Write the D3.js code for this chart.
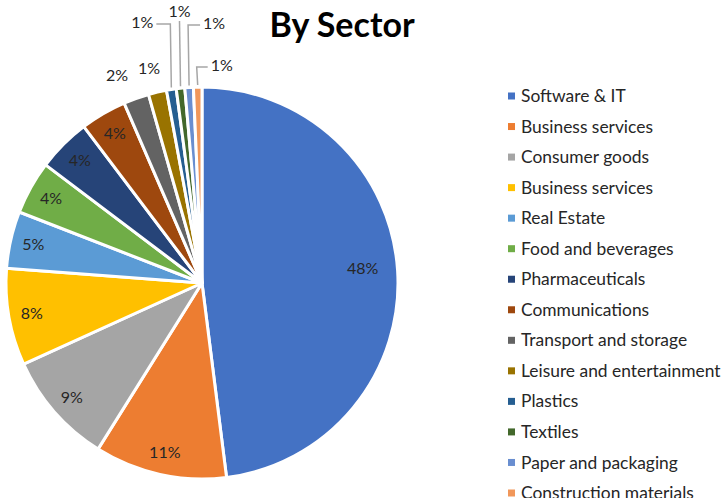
<!DOCTYPE html>
<html>
<head>
<meta charset="utf-8">
<script src="https://cdn.jsdelivr.net/npm/d3@7/dist/d3.min.js"></script>
<style>
  html, body { margin: 0; padding: 0; background: #fff; }
  svg { display: block; }
</style>
</head>
<body>
<svg id="chart" width="724" height="498"></svg>
<script>
// Share of investments by sector (percent)
const sectors = [
  "Software & IT", "Business services", "Consumer goods", "Business services",
  "Real Estate", "Food and beverages", "Pharmaceuticals", "Communications",
  "Transport and storage", "Leisure and entertainment", "Plastics", "Textiles",
  "Paper and packaging", "Construction materials"
];
const shares = [48, 10.9, 9.3, 8, 4.7, 4.4, 4.4, 3.8, 2.1, 1.5, 0.8, 0.7, 0.7, 0.7];
const palette = [
  "#4472C4", "#ED7D31", "#A5A5A5", "#FFC000", "#5B9BD5", "#70AD47", "#264478",
  "#9E480E", "#636363", "#997300", "#255E91", "#43682B", "#698ED0", "#F1975A"
];

const cx = 202, cy = 283, R = 196;
const svg = d3.select("#chart");
const font = "Lato, 'Open Sans', sans-serif";
const labelColor = "#262626";

svg.append("text")
  .attr("x", 342).attr("y", 37)
  .attr("text-anchor", "middle")
  .attr("font-family", font)
  .attr("font-weight", "bold")
  .attr("font-size", 34)
  .attr("fill", "#000")
  .text("By Sector");

const data = sectors.map((s, i) => ({ name: s, value: shares[i], color: palette[i] }));
const total = d3.sum(shares);
const fmt = d3.format(".0%");

const pie = d3.pie().sort(null).value(d => d.value);
const arcs = pie(data);
const arc = d3.arc().innerRadius(0).outerRadius(R);

const g = svg.append("g").attr("transform", `translate(${cx},${cy})`);

g.selectAll("path.slice")
  .data(arcs)
  .join("path")
  .attr("class", "slice")
  .attr("d", arc)
  .attr("fill", d => d.data.color)
  .attr("stroke", "#fff")
  .attr("stroke-width", 3)
  .attr("stroke-linejoin", "round");

// Label placement: inside near the rim for wide slices, just outside for narrow
// ones, and leader-line callouts for the slimmest slices.
const labelSize = 16;
const mid = d => (d.startAngle + d.endAngle) / 2;
const callouts = {
  10: { y: -259, dx: -14, anchor: "end" },
  11: { y: -262, dx: 0, anchor: "middle" },
  12: { y: -258, dx: 12, anchor: "start" },
  13: { y: -216, dx: 11, anchor: "start" }
};

function addLabel(x, y, text, anchor) {
  g.append("text")
    .attr("x", x).attr("y", y)
    .attr("dy", "0.35em")
    .attr("text-anchor", anchor || "middle")
    .attr("font-family", font).attr("font-size", labelSize)
    .attr("fill", labelColor)
    .text(text);
}

const outside = [];
arcs.forEach((d, i) => {
  const a = mid(d);
  const s = Math.sin(a), c = -Math.cos(a);
  const label = fmt(d.data.value / total);
  const frac = d.data.value / total;
  if (callouts[i]) {
    const co = callouts[i];
    const x0 = R * s, y0 = R * c;
    const pts = co.dx === 0
      ? [[x0, y0 - 2], [x0 - 1, co.y]]
      : [[x0, y0 - 2], [x0 - 1, co.y], [x0 - 1 + co.dx, co.y]];
    g.append("path")
      .attr("d", d3.line()(pts))
      .attr("fill", "none")
      .attr("stroke", "#A6A6A6")
      .attr("stroke-width", 1.5);
    const tx = co.dx === 0 ? x0 - 1 : x0 - 1 + co.dx + (co.dx > 0 ? 3 : -3);
    const ty = co.dx === 0 ? co.y - 10 : co.y - 2;
    addLabel(tx, ty, label, co.anchor);
  } else if (frac < 0.03) {
    const r = 220;
    outside.push({ x: r * s - 3, y: r * c, label });
  } else {
    const r = frac > 0.3 ? 161 : 173;
    addLabel(r * s, r * c - (frac > 0.3 ? 5 : 0), label);
  }
});

// spread neighbouring outside labels so they do not collide
outside.sort((a, b) => b.x - a.x);
for (let k = 1; k < outside.length; k++) {
  const gap = outside[k - 1].x - outside[k].x;
  if (gap < 32) outside[k].x -= 32 - gap;
}
outside.forEach(o => addLabel(o.x, o.y, o.label));

// Legend
const legendY = d3.scalePoint().domain(d3.range(data.length)).range([96, 493]);
const rows = svg.append("g").selectAll("g.row")
  .data(data)
  .join("g")
  .attr("class", "row")
  .attr("transform", (d, i) => `translate(508,${legendY(i)})`);
rows.append("rect")
  .attr("x", 0).attr("y", -3.5)
  .attr("width", 7).attr("height", 7)
  .attr("fill", d => d.color);
rows.append("text")
  .attr("x", 13).attr("y", 0)
  .attr("dy", "0.35em")
  .attr("font-family", font).attr("font-size", 17.4)
  .attr("fill", "#262626")
  .text(d => d.name);
</script>
</body>
</html>
